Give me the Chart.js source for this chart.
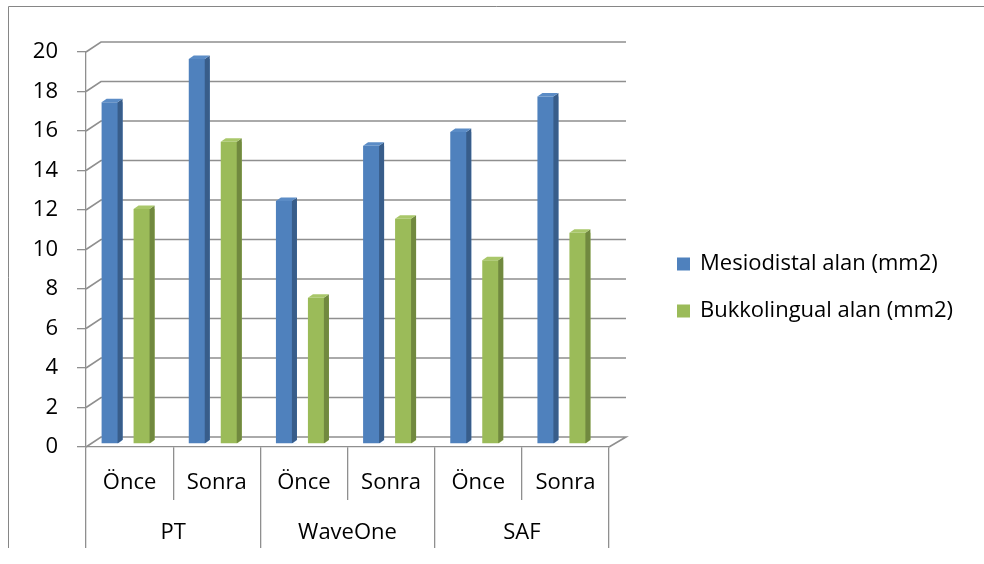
<!DOCTYPE html>
<html>
<head>
<meta charset="utf-8">
<script src="https://cdn.jsdelivr.net/npm/chart.js@4/dist/chart.umd.min.js"></script>
<style>
  html, body { margin: 0; padding: 0; background: #ffffff; }
  #wrap { position: relative; width: 984px; height: 564px; }
</style>
</head>
<body>
<div id="wrap"><canvas id="c" width="984" height="564"></canvas></div>
<script>
// Canal area measurements before / after preparation, per instrument system
const instruments = ['PT', 'WaveOne', 'SAF'];
const stages = ['Önce', 'Sonra', 'Önce', 'Sonra', 'Önce', 'Sonra'];
const mesiodistal = [17.3, 19.5, 12.3, 15.1, 15.8, 17.6];
const bukkolingual = [11.9, 15.3, 7.4, 11.4, 9.3, 10.7];
const seriesNames = ['Mesiodistal alan (mm2)', 'Bukkolingual alan (mm2)'];
const yTicks = [0, 2, 4, 6, 8, 10, 12, 14, 16, 18, 20];

const FONT = '"Open Sans"';
const FONT_SIZE = 22;
const GRID = '#8f8f8f';

const faces = [
  { front: '#4f81bd', side: '#385d8a', top: '#5b8cc6' },
  { front: '#9bbb59', side: '#71893f', top: '#a9c76a' }
];

// depth of the 3D box (back wall offset) and of each column
const DEPTH_X = 15, DEPTH_Y = 10;
const COL_DX = 5, COL_DY = 3.5;

const threeD = {
  id: 'threeD',
  beforeDraw(chart) {
    const ctx = chart.ctx;
    ctx.save();
    ctx.strokeStyle = '#868686';
    ctx.lineWidth = 1;
    ctx.beginPath();
    ctx.moveTo(8.5, 548);
    ctx.lineTo(8.5, 6.5);
    ctx.lineTo(990, 6.5);
    ctx.stroke();
    ctx.restore();
  },
  beforeDatasetsDraw(chart) {
    const ctx = chart.ctx;
    const y = chart.scales.y;
    const area = chart.chartArea;
    ctx.save();
    ctx.strokeStyle = GRID;
    ctx.lineWidth = 1.6;
    for (const v of yTicks) {
      const py = y.getPixelForValue(v);
      ctx.beginPath();
      ctx.moveTo(area.left, py);
      ctx.lineTo(area.left + DEPTH_X, py - DEPTH_Y);
      ctx.lineTo(area.right + DEPTH_X + 2, py - DEPTH_Y);
      if (v === 0) ctx.lineTo(area.right, py);
      ctx.stroke();
    }
    ctx.restore();
    // columns stand mid-depth inside the box
    ctx.save();
    ctx.translate(-1.5, -3);
  },
  afterDatasetsDraw(chart) {
    const ctx = chart.ctx;
    chart.data.datasets.forEach((ds, i) => {
      const meta = chart.getDatasetMeta(i);
      const f = faces[i];
      meta.data.forEach(bar => {
        const L = bar.x - bar.width / 2;
        const R = bar.x + bar.width / 2;
        const top = bar.y, base = bar.base;
        ctx.fillStyle = f.side;
        ctx.beginPath();
        ctx.moveTo(R - COL_DX, top);
        ctx.lineTo(R, top - COL_DY);
        ctx.lineTo(R, base - COL_DY);
        ctx.lineTo(R - COL_DX, base);
        ctx.closePath();
        ctx.fill();
        ctx.fillStyle = '#ffffff';
        ctx.beginPath();
        ctx.moveTo(R - COL_DX, base + 0.5);
        ctx.lineTo(R + 0.5, base - COL_DY);
        ctx.lineTo(R + 0.5, base + 0.5);
        ctx.closePath();
        ctx.fill();
        ctx.fillStyle = f.top;
        ctx.beginPath();
        ctx.moveTo(L, top);
        ctx.lineTo(L + COL_DX, top - COL_DY);
        ctx.lineTo(R, top - COL_DY);
        ctx.lineTo(R - COL_DX, top);
        ctx.closePath();
        ctx.fill();
      });
    });
    ctx.restore();
  },
  afterDraw(chart) {
    const ctx = chart.ctx;
    ctx.save();
    ctx.font = FONT_SIZE + 'px ' + FONT;
    ctx.textBaseline = 'middle';
    ctx.textAlign = 'left';
    const rows = [264, 311];
    chart.data.datasets.forEach((ds, i) => {
      ctx.fillStyle = ds.backgroundColor;
      ctx.fillRect(677, rows[i] - 6.5, 13, 13);
      ctx.fillStyle = '#000000';
      ctx.fillText(ds.label, 700, rows[i]);
    });
    ctx.restore();
  }
};

new Chart(document.getElementById('c'), {
  type: 'bar',
  data: {
    labels: stages,
    datasets: [
      { label: seriesNames[0], data: mesiodistal, backgroundColor: faces[0].front },
      { label: seriesNames[1], data: bukkolingual, backgroundColor: faces[1].front }
    ]
  },
  options: {
    responsive: false,
    animation: false,
    devicePixelRatio: 1,
    layout: { padding: { left: 0, top: 52, right: 375, bottom: 16 } },
    datasets: { bar: { categoryPercentage: 0.734, barPercentage: 0.656 } },
    plugins: { legend: { display: false }, tooltip: { enabled: false } },
    scales: {
      y: {
        min: 0, max: 20,
        afterFit(s) { s.width = 86; },
        afterBuildTicks(s) { s.ticks = yTicks.map(v => ({ value: v })); },
        ticks: { padding: 19, color: '#000000', font: { family: FONT, size: FONT_SIZE } },
        grid: { drawOnChartArea: false, tickLength: 9, color: GRID, lineWidth: 1.3 },
        border: { color: GRID, width: 1.3 }
      },
      x: {
        weight: 0,
        afterFit(s) { s.height = 53; },
        ticks: { padding: -30.2, autoSkip: false, maxRotation: 0, color: '#000000', font: { family: FONT, size: FONT_SIZE } },
        grid: { offset: true, drawOnChartArea: false, tickLength: 53, color: GRID, lineWidth: 1.3 },
        border: { color: GRID, width: 1.3 }
      },
      x2: {
        type: 'category',
        position: 'bottom',
        weight: 1,
        labels: instruments,
        afterFit(s) { s.height = 48; },
        ticks: { padding: -28.2, autoSkip: false, maxRotation: 0, color: '#000000', font: { family: FONT, size: FONT_SIZE } },
        grid: { offset: true, drawOnChartArea: false, tickLength: 48, color: GRID, lineWidth: 1.3 },
        border: { display: false }
      }
    }
  },
  plugins: [threeD]
});
</script>
</body>
</html>
